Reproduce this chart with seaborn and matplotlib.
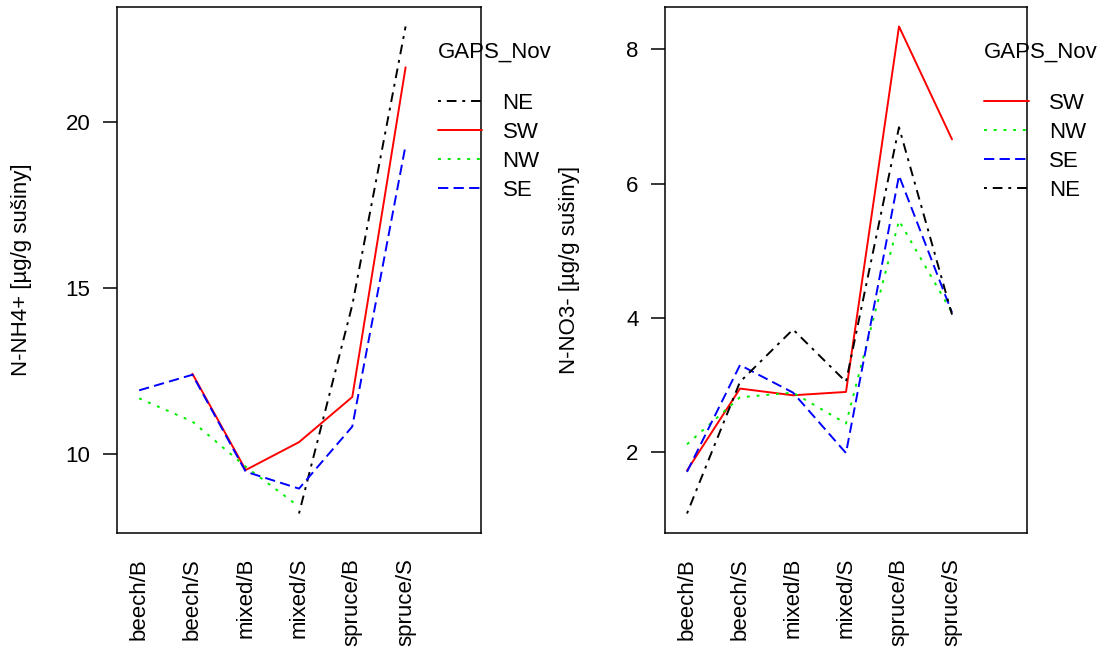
import numpy as np
import pandas as pd
import matplotlib
matplotlib.use("Agg")
import matplotlib.pyplot as plt
from matplotlib.lines import Line2D
import seaborn as sns

# ---------------- data ----------------
categories = ["beech/B", "beech/S", "mixed/B", "mixed/S", "spruce/B", "spruce/S"]
nan = np.nan

# N-NH4+ panel
nh4_NE = [nan, nan, nan, 8.20, 14.48, 22.87]
nh4_SW = [nan, 12.41, 9.51, 10.35, 11.71, 21.64]
nh4_NW = [11.67, 10.97, 9.61, 8.41, nan, nan]
nh4_SE = [11.91, 12.38, 9.46, 8.95, 10.82, 19.29]

# N-NO3- panel
no3_SW = [1.73, 2.95, 2.85, 2.90, 8.34, 6.66]
no3_NW = [2.12, 2.82, 2.89, 2.43, 5.45, 4.08]
no3_SE = [1.71, 3.30, 2.89, 1.99, 6.12, 4.08]
no3_NE = [1.09, 3.05, 3.83, 3.05, 6.84, 4.05]

legend_title = "GAPS_Nov"
ylabel_left = "N-NH4+ [µg/g sušiny]"
ylabel_right = "N-NO3- [µg/g sušiny]"
yticks_left = [10, 15, 20]
yticks_right = [2, 4, 6, 8]

# ---------------- styles ----------------
colors = {"SW": "#FF0000", "NW": "#00EE00", "SE": "#0000FF", "NE": "#000000"}
dashes = {"SW": "", "NW": (1.5, 3.5), "SE": (5.3, 2.7), "NE": (1.5, 3.0, 5.0, 3.0)}
LW = 1.4

sns.set_style("white")
plt.rcParams["font.family"] = ["Liberation Sans", "DejaVu Sans"]
plt.rcParams["font.size"] = 16
for k in ["text.color", "axes.labelcolor", "xtick.color", "ytick.color", "axes.edgecolor"]:
    plt.rcParams[k] = "black"

W, H = 1103, 657
fig = plt.figure(figsize=(W / 100, H / 100), dpi=100)

def px_axes(x0, x1, y0, y1):
    return fig.add_axes([x0 / W, (H - y1) / H, (x1 - x0) / W, (y1 - y0) / H])

panels = [
    (px_axes(117, 481, 7, 533), {"NE": nh4_NE, "SW": nh4_SW, "NW": nh4_NW, "SE": nh4_SE},
     ["NE", "SW", "NW", "SE"], ylabel_left, yticks_left, 364),
    (px_axes(665, 1027, 7, 533), {"SW": no3_SW, "NW": no3_NW, "SE": no3_SE, "NE": no3_NE},
     ["SW", "NW", "SE", "NE"], ylabel_right, yticks_right, 362),
]

pos = np.arange(1, len(categories) + 1)

for ax, series, order, ylabel, yticks, wpx in panels:
    frames = []
    for g, vals in series.items():
        frames.append(pd.DataFrame({"pos": pos, "value": vals, "gap": g}))
    df = pd.concat(frames, ignore_index=True).dropna()

    sns.lineplot(data=df, x="pos", y="value", hue="gap", style="gap",
                 palette=colors, dashes=dashes, estimator=None, sort=False,
                 legend=False, linewidth=LW, ax=ax)

    allv = df["value"].to_numpy()
    lo, hi = allv.min(), allv.max()
    r = hi - lo
    ax.set_ylim(lo - 0.04 * r, hi + 0.04 * r)
    ax.set_xlim(0.585, 7.415)

    ax.set_yticks(yticks)
    ax.set_yticklabels([str(t) for t in yticks])
    ax.set_xticks(pos)
    ax.set_xticklabels(categories, rotation=90)
    ax.tick_params(axis="y", left=True, length=10, width=1.1, direction="out",
                   pad=9, labelsize=16, colors="black")
    ax.tick_params(axis="x", bottom=True, length=0, pad=18, labelsize=16,
                   colors="black")

    for s in ax.spines.values():
        s.set_visible(True)
        s.set_color("black")
        s.set_linewidth(1.1)

    ax.set_xlabel("")
    ax.set_ylabel(ylabel, fontsize=16, color="black")
    ax.yaxis.set_label_coords(-85 / wpx, 0.5)

    # legend
    ax.text(0.881, 0.9145, legend_title, transform=ax.transAxes, ha="left",
            va="center", fontsize=16, color="black", clip_on=False)
    handles = []
    for g in order:
        h = Line2D([], [], color=colors[g], linewidth=LW)
        if dashes[g]:
            h.set_dashes(dashes[g])
        handles.append(h)
    leg = ax.legend(handles, order, loc="upper left", bbox_to_anchor=(0.882, 0.836),
                    frameon=False, borderpad=0, borderaxespad=0, handlelength=2.0,
                    handletextpad=0.9, labelspacing=0.35, fontsize=16)
    for t in leg.get_texts():
        t.set_color("black")

fig.savefig("out.png", dpi=100)
